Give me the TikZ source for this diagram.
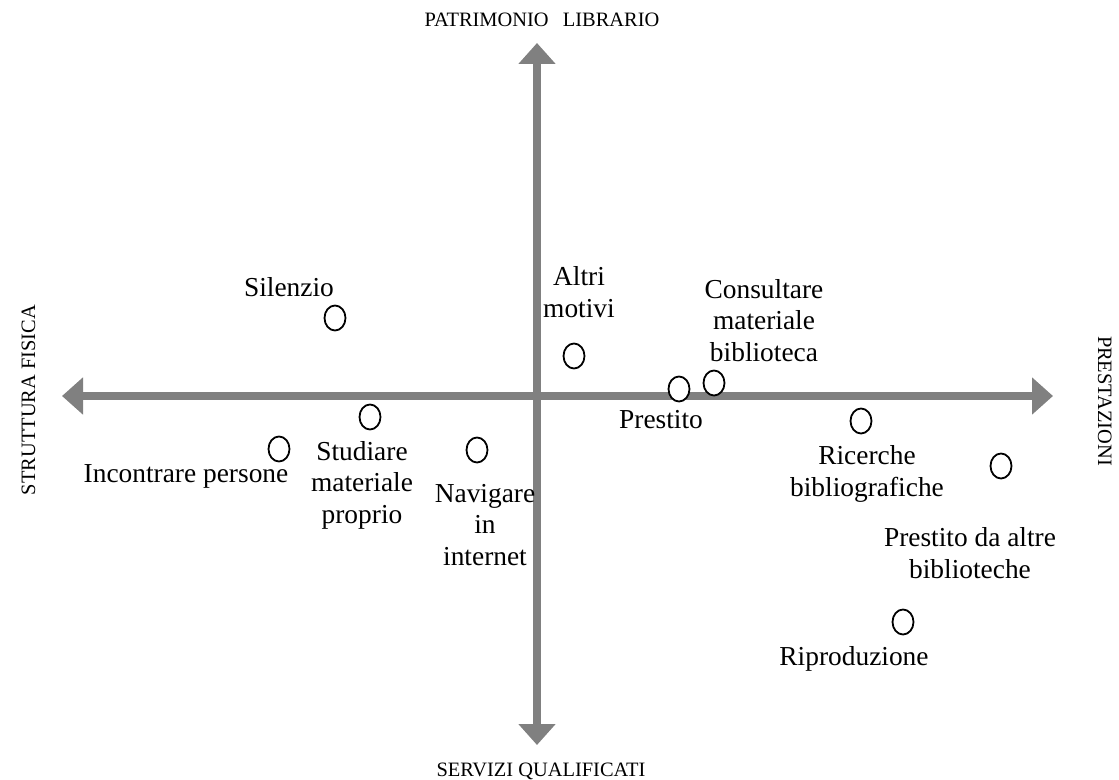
\documentclass[tikz,border=0pt]{standalone}
\usepackage{fontspec}
\setmainfont{Liberation Serif}
\usetikzlibrary{arrows.meta,shapes.geometric}
\definecolor{axisgray}{RGB}{128,128,128}
\begin{document}
\begin{tikzpicture}[x=1bp,y=-1bp,
  axis/.style={line width=8bp, draw=axisgray,
    {Triangle[width=36bp,length=21bp]}-{Triangle[width=36bp,length=21bp]}},
  dot/.style={ellipse, draw=black, fill=white, line width=1.8bp,
    minimum width=21bp, minimum height=25bp, inner sep=0pt},
  lbl/.style={font=\fontsize{27.5}{31.5}\selectfont, align=center,
    inner sep=0pt, anchor=base},
  axlbl/.style={font=\fontsize{20.5}{24}\selectfont, inner sep=0pt, anchor=base}]
\useasboundingbox (0,0) rectangle (1119,780);
% axes
\coordinate (W) at (62,396);
\coordinate (E) at (1053,396);
\coordinate (N) at (537,43);
\coordinate (S) at (537,745);
\draw[axis] (W) -- (E);
\draw[axis] (S) -- (N);
% axis labels
\node[axlbl] (lblN) at (542,27) {PATRIMONIO\hspace{0.7em}LIBRARIO};
\node[axlbl] (lblS) at (541,776) {SERVIZI QUALIFICATI};
\node[axlbl, rotate=90] (lblW) at (35,400) {STRUTTURA FISICA};
\node[axlbl, rotate=-90] (lblE) at (1098,401) {PRESTAZIONI};
% points
\node[dot] (silenzio) at (335,318) {};
\node[dot] (studiare) at (370,417) {};
\node[dot] (incontrare) at (279,449) {};
\node[dot] (navigare) at (477,450) {};
\node[dot] (altri) at (574,356) {};
\node[dot] (prestito) at (679,389) {};
\node[dot] (consultare) at (714,383) {};
\node[dot] (ricerche) at (861,421) {};
\node[dot] (prestitoaltre) at (1001,466) {};
\node[dot] (riproduzione) at (903,622) {};
% labels (anchor = baseline of last line)
\node[lbl] (tsilenzio) at (289,296) {Silenzio};
\node[lbl] (tincontrare) at (186,482) {Incontrare persone};
\node[lbl] (tstudiare) at (362,523) {Studiare\\materiale\\proprio};
\node[lbl] (tnavigare) at (485,565) {Navigare\\in\\internet};
\node[lbl] (taltri) at (579,317) {Altri\\motivi};
\node[lbl] (tconsultare) at (764,361) {Consultare\\materiale\\biblioteca};
\node[lbl] (tprestito) at (661,428) {Prestito};
\node[lbl] (tricerche) at (867,496) {Ricerche\\bibliografiche};
\node[lbl] (tprestitoaltre) at (970,578) {Prestito da altre\\biblioteche};
\node[lbl] (triproduzione) at (854,665) {Riproduzione};
\end{tikzpicture}
\end{document}
